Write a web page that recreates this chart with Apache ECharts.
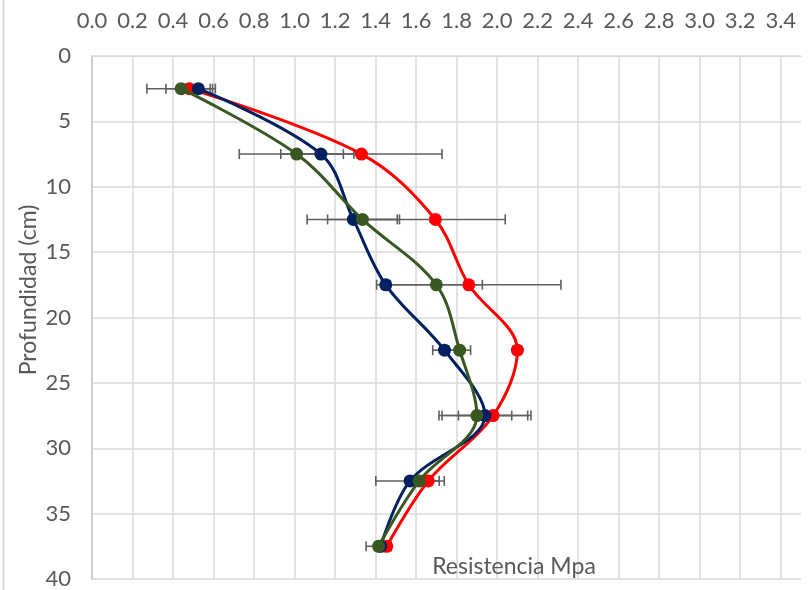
<!DOCTYPE html>
<html>
<head>
<meta charset="utf-8">
<script src="https://cdn.jsdelivr.net/npm/echarts@6/dist/echarts.min.js"></script>
<style>
  html, body { margin: 0; padding: 0; background: #ffffff; }
  #chart { width: 811px; height: 590px; }
</style>
</head>
<body>
<div id="chart"></div>
<script>
// Depth of each reading (cm)
const depths = [2.5, 7.5, 12.5, 17.5, 22.5, 27.5, 32.5, 37.5];

// Penetration resistance (MPa) for each profile
const redValues   = [0.48, 1.33, 1.695, 1.86, 2.10, 1.98, 1.66, 1.455];
const navyValues  = [0.525, 1.13, 1.29, 1.45, 1.74, 1.94, 1.57, 1.425];
const greenValues = [0.44, 1.01, 1.335, 1.70, 1.815, 1.90, 1.615, 1.415];

// Error bar half-widths (MPa)
const redErrors   = [0.115, 0.398, 0.345, 0.455, 0.02, 0.171, 0.054, 0.02];
const navyErrors  = [0.058, 0.111, 0.228, 0.02, 0.058, 0.227, 0.169, 0.03];
const greenErrors = [0.169, 0.283, 0.172, 0.227, 0.054, 0.172, 0.02, 0.062];

// Axis ticks
const xTicksMax = 3.5;
const yTicksMax = 40;

const FONT = 'Lato';
const TEXT = '#595959';
const GRID = '#d9d9d9';

function points(values) {
  return values.map((v, i) => [v, depths[i]]);
}
function errPoints(values, errs) {
  return values.map((v, i) => [v, depths[i], errs[i]]);
}

function renderErrorBar(params, api) {
  const x = api.value(0), y = api.value(1), e = api.value(2);
  const a = api.coord([x - e, y]);
  const b = api.coord([x + e, y]);
  const cap = 5;
  const style = { stroke: '#5f5f5f', lineWidth: 1.6 };
  return {
    type: 'group',
    children: [
      { type: 'line', shape: { x1: a[0], y1: a[1], x2: b[0], y2: b[1] }, style },
      { type: 'line', shape: { x1: a[0], y1: a[1] - cap, x2: a[0], y2: a[1] + cap }, style },
      { type: 'line', shape: { x1: b[0], y1: b[1] - cap, x2: b[0], y2: b[1] + cap }, style }
    ]
  };
}

function errorSeries(values, errs) {
  return {
    type: 'custom',
    renderItem: renderErrorBar,
    data: errPoints(values, errs),
    encode: { x: 0, y: 1 },
    z: 1,
    silent: true
  };
}

function lineSeries(values, color, z) {
  return {
    type: 'line',
    data: points(values),
    smooth: 0.35,
    symbol: 'circle',
    symbolSize: 13,
    lineStyle: { color, width: 3 },
    itemStyle: { color },
    z
  };
}

// one colour per vertical grid line; the closing edge at 3.5 stays blank
const xSplitColors = [];
for (let i = 0; i < 18; i++) xSplitColors.push(GRID);
xSplitColors.push('rgba(0,0,0,0)');

const chart = echarts.init(document.getElementById('chart'), null, { renderer: 'canvas' });
chart.setOption({
  animation: false,
  backgroundColor: '#ffffff',
  grid: { left: 92, right: 10, top: 56, bottom: 10, containLabel: false },
  xAxis: {
    type: 'value',
    position: 'top',
    min: 0,
    max: xTicksMax,
    interval: 0.2,
    axisLine: { show: true, lineStyle: { color: GRID, width: 1 } },
    axisTick: { show: false },
    axisLabel: {
      showMaxLabel: false,
      margin: 24,
      color: TEXT,
      fontFamily: FONT,
      fontSize: 22,
      formatter: v => v.toFixed(1)
    },
    splitLine: { show: true, lineStyle: { color: xSplitColors, width: 1.5 } }
  },
  yAxis: {
    type: 'value',
    inverse: true,
    min: 0,
    max: yTicksMax,
    interval: 5,
    axisLine: { show: true, lineStyle: { color: '#c8c8c8', width: 1.5 } },
    axisTick: { show: false },
    axisLabel: { margin: 21, color: TEXT, fontFamily: FONT, fontSize: 22 },
    splitLine: { show: true, lineStyle: { color: GRID, width: 1.5 } }
  },
  graphic: [
    {
      type: 'line',
      shape: { x1: 3.5, y1: 0, x2: 3.5, y2: 590 },
      style: { stroke: GRID, lineWidth: 2 }
    },
    {
      type: 'text',
      x: 29,
      y: 290,
      rotation: Math.PI / 2,
      style: {
        text: 'Profundidad (cm)',
        fill: TEXT,
        font: '23px ' + FONT,
        textAlign: 'center',
        textVerticalAlign: 'middle'
      }
    },
    {
      type: 'text',
      x: 514,
      y: 567,
      style: {
        text: 'Resistencia Mpa',
        fill: TEXT,
        font: '23px ' + FONT,
        textAlign: 'center',
        textVerticalAlign: 'middle'
      },
      z: 10
    }
  ],
  series: [
    errorSeries(redValues, redErrors),
    errorSeries(navyValues, navyErrors),
    errorSeries(greenValues, greenErrors),
    lineSeries(redValues, '#ff0000', 2),
    lineSeries(navyValues, '#002060', 3),
    lineSeries(greenValues, '#385723', 4)
  ]
});
</script>
</body>
</html>
